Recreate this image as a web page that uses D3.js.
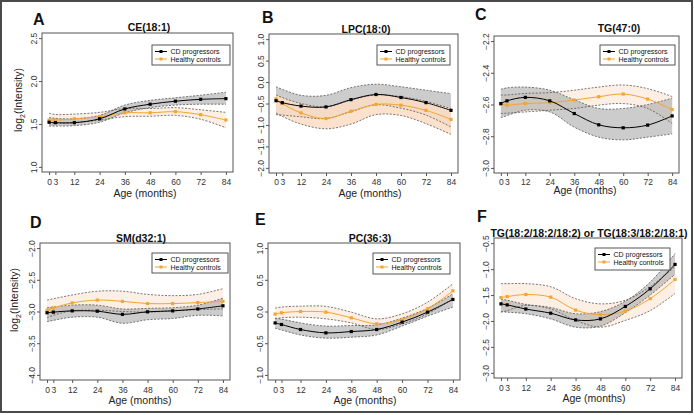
<!DOCTYPE html>
<html><head><meta charset="utf-8">
<script src="https://cdn.jsdelivr.net/npm/d3@7"></script>
<style>body{margin:0;background:#fff}svg{display:block;font-family:"Liberation Sans",Arial,Helvetica,sans-serif}</style>
</head><body><svg id="chart" width="694" height="415"></svg>
<script>
// ---------- data ----------
const months = [0, 3, 12, 24, 36, 48, 60, 72, 84];
const seriesNames = ["CD progressors", "Healthy controls"];
const panelLetters = ["A", "B", "C", "D", "E", "F"];
const titles = ["CE(18:1)", "LPC(18:0)", "TG(47:0)", "SM(d32:1)", "PC(36:3)", "TG(18:2/18:2/18:2) or TG(18:3/18:2/18:1)"];
const xAxisTitle = "Age (months)";

const yTicksA = [1.0, 1.5, 2.0, 2.5];
const yTicksB = [-2.0, -1.5, -1.0, -0.5, 0.0, 0.5, 1.0];
const yTicksC = [-3.0, -2.8, -2.6, -2.4, -2.2];
const yTicksD = [-4.0, -3.5, -3.0, -2.5, -2.0];
const yTicksE = [-1.0, -0.5, 0.0, 0.5, 1.0];
const yTicksF = [-3.0, -2.5, -2.0, -1.5, -1.0, -0.5];

// A  CE(18:1)
const aCd   = [1.52, 1.515, 1.515, 1.56, 1.675, 1.73, 1.765, 1.787, 1.795];
const aCdLo = [1.475, 1.475, 1.48, 1.52, 1.63, 1.69, 1.72, 1.73, 1.73];
const aCdHi = [1.575, 1.565, 1.56, 1.60, 1.72, 1.775, 1.805, 1.835, 1.87];
const aHc   = [1.545, 1.545, 1.56, 1.585, 1.63, 1.63, 1.643, 1.608, 1.546];
const aHcLo = [1.50, 1.505, 1.515, 1.545, 1.585, 1.59, 1.60, 1.555, 1.455];
const aHcHi = [1.625, 1.61, 1.615, 1.635, 1.68, 1.68, 1.69, 1.665, 1.635];
// B  LPC(18:0)
const bCd   = [-0.435, -0.48, -0.56, -0.58, -0.41, -0.29, -0.36, -0.48, -0.66];
const bCdLo = [-0.76, -0.77, -0.81, -0.85, -0.69, -0.53, -0.61, -0.77, -1.05];
const bCdHi = [-0.11, -0.17, -0.31, -0.31, -0.13, -0.05, -0.11, -0.19, -0.27];
const bHc   = [-0.39, -0.50, -0.72, -0.85, -0.68, -0.52, -0.54, -0.66, -0.87];
const bHcLo = [-0.72, -0.80, -0.98, -1.09, -0.98, -0.76, -0.78, -0.97, -1.22];
const bHcHi = [-0.30, -0.36, -0.50, -0.58, -0.42, -0.30, -0.34, -0.45, -0.62];
// C  TG(47:0)
const cCd   = [-2.594, -2.577, -2.555, -2.577, -2.657, -2.728, -2.747, -2.73, -2.672];
const cCdLo = [-2.683, -2.67, -2.636, -2.647, -2.743, -2.806, -2.823, -2.806, -2.785];
const cCdHi = [-2.504, -2.495, -2.49, -2.51, -2.57, -2.625, -2.625, -2.60, -2.56];
const cHc   = [-2.598, -2.604, -2.594, -2.589, -2.572, -2.551, -2.534, -2.566, -2.632];
const cHcLo = [-2.657, -2.655, -2.647, -2.636, -2.625, -2.604, -2.594, -2.625, -2.72];
const cHcHi = [-2.54, -2.54, -2.53, -2.525, -2.51, -2.49, -2.477, -2.50, -2.55];
// D  SM(d32:1)
const dCd   = [-3.02, -3.01, -2.99, -2.995, -3.045, -3.005, -2.99, -2.96, -2.91];
const dCdLo = [-3.16, -3.14, -3.09, -3.09, -3.185, -3.13, -3.11, -3.06, -3.07];
const dCdHi = [-2.94, -2.93, -2.90, -2.90, -2.96, -2.95, -2.94, -2.90, -2.79];
const dHc   = [-2.98, -2.945, -2.865, -2.82, -2.84, -2.875, -2.875, -2.86, -2.84];
const dHcLo = [-3.10, -3.06, -2.99, -2.98, -3.00, -3.01, -2.99, -2.97, -2.96];
const dHcHi = [-2.82, -2.80, -2.74, -2.68, -2.68, -2.73, -2.75, -2.73, -2.64];
// E  PC(36:3)
const eCd   = [-0.18, -0.205, -0.284, -0.337, -0.316, -0.284, -0.168, -0.01, 0.19];
const eCdLo = [-0.263, -0.29, -0.37, -0.42, -0.405, -0.37, -0.23, -0.074, 0.07];
const eCdHi = [-0.105, -0.12, -0.18, -0.23, -0.22, -0.21, -0.105, 0.05, 0.28];
const eHc   = [-0.042, -0.021, 0.0, -0.01, -0.10, -0.195, -0.126, 0.042, 0.326];
const eHcLo = [-0.116, -0.10, -0.09, -0.116, -0.18, -0.284, -0.195, -0.037, 0.20];
const eHcHi = [0.053, 0.07, 0.084, 0.08, -0.01, -0.116, -0.037, 0.147, 0.437];
// F  TG(18:2/18:2/18:2) or TG(18:3/18:2/18:1)
const fCd   = [-1.67, -1.69, -1.77, -1.85, -1.98, -1.96, -1.72, -1.38, -0.91];
const fCdLo = [-1.82, -1.83, -1.86, -1.96, -2.12, -2.10, -1.84, -1.50, -1.10];
const fCdHi = [-1.58, -1.60, -1.68, -1.74, -1.86, -1.82, -1.62, -1.25, -0.70];
const fHc   = [-1.55, -1.53, -1.49, -1.54, -1.79, -1.88, -1.81, -1.57, -1.20];
const fHcLo = [-1.83, -1.80, -1.70, -1.77, -1.99, -2.12, -1.99, -1.80, -1.47];
const fHcHi = [-1.28, -1.28, -1.28, -1.34, -1.57, -1.67, -1.60, -1.34, -0.95];

// ---------- layout (positions only) ----------
const layout = [
  {box:[42,233,33,172], pad:4, letter:[33,25], title:[149,31], xlab:[145,197], legend:[152,45,78,20], ylab:[22,100]},
  {box:[269,458,34,173], pad:3, letter:[262,23], title:[366,33], xlab:[370,197], legend:[377,45,73,20], hcTop:true},
  {box:[494,679,36,173], pad:2.5, letter:[475,20], title:[619,32], xlab:[585,194], legend:[600,45,75,20]},
  {box:[40,230,243,380], pad:3.5, letter:[30,228], title:[141,242], xlab:[140,404], legend:[152,253,76,20], ylab:[18,300]},
  {box:[268,460,243,380], pad:3.5, letter:[255,225], title:[370,242], xlab:[365,404], legend:[373,253,77,21]},
  {box:[494,682,238,378], pad:3.5, letter:[477,222], title:[589,237], xlab:[594,402], legend:[595,248,75,22]}
];

const panels = [
  {ticks:yTicksA, cd:aCd, cdLo:aCdLo, cdHi:aCdHi, hc:aHc, hcLo:aHcLo, hcHi:aHcHi},
  {ticks:yTicksB, cd:bCd, cdLo:bCdLo, cdHi:bCdHi, hc:bHc, hcLo:bHcLo, hcHi:bHcHi},
  {ticks:yTicksC, cd:cCd, cdLo:cCdLo, cdHi:cCdHi, hc:cHc, hcLo:cHcLo, hcHi:cHcHi},
  {ticks:yTicksD, cd:dCd, cdLo:dCdLo, cdHi:dCdHi, hc:dHc, hcLo:dHcLo, hcHi:dHcHi},
  {ticks:yTicksE, cd:eCd, cdLo:eCdLo, cdHi:eCdHi, hc:eHc, hcLo:eHcLo, hcHi:eHcHi},
  {ticks:yTicksF, cd:fCd, cdLo:fCdLo, cdHi:fCdHi, hc:fHc, hcLo:fHcLo, hcHi:fHcHi}
];

const COL_CD = "#000000", COL_HC = "#f2a531";
const svg = d3.select("#chart");
svg.append("rect").attr("x",1).attr("y",1).attr("width",691).attr("height",411)
  .attr("fill","#fff").attr("stroke","#4a4a4a").attr("stroke-width",2);

const curve = d3.curveCatmullRom.alpha(0.5);

panels.forEach((p, i) => {
  const L = layout[i];
  const [l, r, t, b] = L.box;
  const xExt = (months[months.length-1] - months[0]) * 0.04;
  const x = d3.scaleLinear().domain([months[0]-xExt, months[months.length-1]+xExt]).range([l, r]);
  const yMin = d3.min(p.ticks), yMax = d3.max(p.ticks), yExt = (yMax-yMin)*0.04;
  const y = d3.scaleLinear().domain([yMin-yExt, yMax+yExt]).range([b, t]);
  const g = svg.append("g");

  const area = (lo, hi) => d3.area().curve(curve).x((d,k)=>x(months[k])).y0((d,k)=>y(lo[k])).y1((d,k)=>y(hi[k]))(months);
  const line = vals => d3.line().curve(curve).x((d,k)=>x(months[k])).y((d,k)=>y(vals[k]))(months);

  const drawCd = () => g.append("path").attr("d", area(p.cdLo, p.cdHi)).attr("fill","#a3a3a3").attr("fill-opacity",0.55);
  const drawHc = () => g.append("path").attr("d", area(p.hcLo, p.hcHi)).attr("fill","#fbdcc4").attr("fill-opacity", L.hcTop ? 0.85 : 0.45);
  if (L.hcTop) { drawCd(); drawHc(); } else { drawHc(); drawCd(); }
  [p.cdLo, p.cdHi, p.hcLo, p.hcHi].forEach(v => {
    g.append("path").attr("d", line(v)).attr("fill","none").attr("stroke","#555")
      .attr("stroke-width",0.8).attr("stroke-dasharray","2,1.5");
  });
  [[p.hc, COL_HC], [p.cd, COL_CD]].forEach(([v, c]) => {
    g.append("path").attr("d", line(v)).attr("fill","none").attr("stroke",c).attr("stroke-width",1);
    g.selectAll(null).data(v).enter().append("rect")
      .attr("x",(d,k)=>x(months[k])-1.6).attr("y",d=>y(d)-1.6)
      .attr("width",3.2).attr("height",3.2).attr("fill",c);
  });

  // box
  g.append("rect").attr("x",l).attr("y",t).attr("width",r-l).attr("height",b-t)
    .attr("fill","none").attr("stroke","#555").attr("stroke-width",1);

  // axes
  const xa = g.append("g").attr("transform",`translate(0,${b})`)
    .call(d3.axisBottom(x).tickValues(months).tickFormat(d3.format("d")).tickSize(3).tickPadding(L.pad));
  const ya = g.append("g").attr("transform",`translate(${l},0)`)
    .call(d3.axisLeft(y).tickValues(p.ticks).tickFormat(d3.format(".1f")).tickSize(3));
  [xa, ya].forEach(a => {
    a.select(".domain").remove();
    a.selectAll("line").attr("stroke","#555");
    a.selectAll("text").attr("fill","#333").style("font-size","8.5px").style("font-family",null);
  });
  ya.selectAll("text").attr("transform","rotate(-90)").attr("x",0).attr("y",-5).attr("dy",0)
    .style("text-anchor","middle");

  // texts
  g.append("text").attr("x",L.letter[0]).attr("y",L.letter[1]).text(panelLetters[i])
    .style("font-size","16px").style("font-weight","bold").attr("fill","#111");
  g.append("text").attr("x",L.title[0]).attr("y",L.title[1]).text(titles[i])
    .style("font-size","10.5px").style("font-weight","bold").attr("text-anchor","middle").attr("fill","#111");
  g.append("text").attr("x",L.xlab[0]).attr("y",L.xlab[1]).text(xAxisTitle)
    .style("font-size","10.5px").attr("text-anchor","middle").attr("fill","#222");
  if (L.ylab) {
    const yt = g.append("text").attr("transform",`translate(${L.ylab[0]},${L.ylab[1]}) rotate(-90)`)
      .attr("text-anchor","middle").style("font-size","10.5px").attr("fill","#222");
    yt.append("tspan").text("log");
    yt.append("tspan").text("2").style("font-size","7px").attr("dy",3);
    yt.append("tspan").text("(Intensity)").attr("dy",-3);
  }

  // legend
  const [lx, ly, lw, lh] = L.legend;
  const lg = g.append("g").attr("transform",`translate(${lx},${ly})`);
  lg.append("rect").attr("width",lw).attr("height",lh).attr("fill","#fff").attr("stroke","#555").attr("stroke-width",1);
  [COL_CD, COL_HC].forEach((c, k) => {
    const yy = 6.5 + k*7.5;
    lg.append("line").attr("x1",3).attr("x2",15).attr("y1",yy).attr("y2",yy).attr("stroke",c).attr("stroke-width",1);
    lg.append("rect").attr("x",7.5).attr("y",yy-1.5).attr("width",3).attr("height",3).attr("fill",c);
    lg.append("text").attr("x",18.5).attr("y",yy+2.5).text(seriesNames[k])
      .style("font-size","7px").attr("fill","#111");
  });
});
</script></body></html>
